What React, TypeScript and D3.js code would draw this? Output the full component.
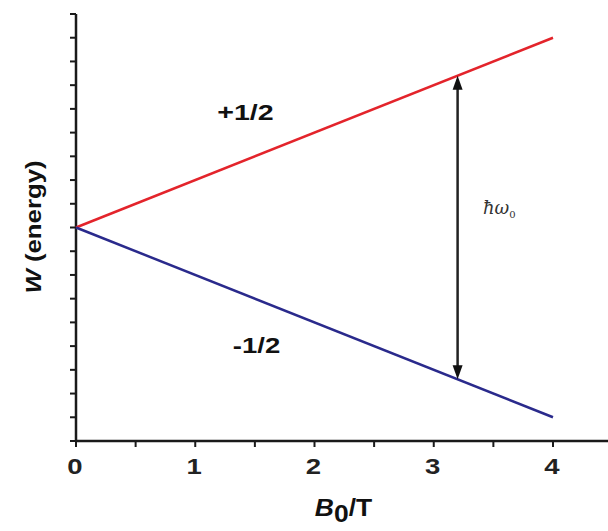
import React from "react";
import * as d3 from "d3";

const xTickValues = [0, 1, 2, 3, 4];
const xMinorTicks = [0.5, 1.5, 2.5, 3.5];
const yTickValues = d3.range(-9, 10, 1);
const bValues = [0, 4];
const upperLevel = [0, 8]; // m = +1/2
const lowerLevel = [0, -8]; // m = -1/2
const arrowB = 3.2;

const W = 608;
const H = 531;

export default function App() {
  const x = d3.scaleLinear().domain([0, 4]).range([76, 553]);
  const y = d3.scaleLinear().domain([-9, 9]).range([441, 14]);
  const line = d3
    .line<[number, number]>()
    .x((d) => x(d[0]))
    .y((d) => y(d[1]));
  const upper = bValues.map((b, i) => [b, upperLevel[i]] as [number, number]);
  const lower = bValues.map((b, i) => [b, lowerLevel[i]] as [number, number]);
  const slope = upperLevel[1] / bValues[1];
  const ax = x(arrowB);
  const ay1 = y(slope * arrowB);
  const ay2 = y(-slope * arrowB);
  const font = "'Liberation Sans', Arial, sans-serif";
  const ah = 12;
  const aw = 5;

  return (
    <svg
      width={W}
      height={H}
      style={{ position: "absolute", left: 0, top: 0, background: "#fff" }}
      fontFamily={font}
    >
      {/* axes */}
      <line x1={x(0)} x2={608} y1={y(-9)} y2={y(-9)} stroke="#1a1a1a" strokeWidth={2.5} />
      <line x1={x(0)} x2={x(0)} y1={y(9)} y2={y(-9) + 1} stroke="#1a1a1a" strokeWidth={2.5} />
      {yTickValues.map((v) => (
        <line key={"yt" + v} x1={x(0) - 6} x2={x(0)} y1={y(v)} y2={y(v)} stroke="#1a1a1a" strokeWidth={2} />
      ))}
      {xTickValues.concat(xMinorTicks).map((v) => (
        <line key={"xt" + v} x1={x(v)} x2={x(v)} y1={y(-9)} y2={y(-9) + 6} stroke="#1a1a1a" strokeWidth={2} />
      ))}
      {xTickValues.map((v) => (
        <g key={"xl" + v} transform={`translate(${x(v) - 1},474) scale(1.25,1)`}>
          <text x={0} y={0} textAnchor="middle" fontSize={22} fontWeight="bold" fill="#222">
            {v}
          </text>
        </g>
      ))}

      {/* levels */}
      <path d={line(upper) || ""} stroke="#e3242b" strokeWidth={2.5} fill="none" />
      <path d={line(lower) || ""} stroke="#2a2a8c" strokeWidth={2.5} fill="none" />

      {/* arrow */}
      <line x1={ax} x2={ax} y1={ay1 + ah} y2={ay2 - ah} stroke="#222" strokeWidth={2.5} />
      <path d={`M${ax},${ay1} L${ax - aw},${ay1 + ah + 2} L${ax + aw},${ay1 + ah + 2} Z`} fill="#111" />
      <path d={`M${ax},${ay2} L${ax - aw},${ay2 - ah - 2} L${ax + aw},${ay2 - ah - 2} Z`} fill="#111" />

      {/* labels */}
      <g transform="translate(245.5,120) scale(1.3,1)">
        <text x={0} y={0} textAnchor="middle" fontSize={22} fontWeight="bold" fill="#111">+1/2</text>
      </g>
      <g transform="translate(256.5,353) scale(1.25,1)">
        <text x={0} y={0} textAnchor="middle" fontSize={22} fontWeight="bold" fill="#111">-1/2</text>
      </g>
      <text x={483} y={214} fontSize={18} fill="#333" fontFamily="'DejaVu Serif', serif" fontStyle="italic">
        ħω<tspan fontSize={10} dy={4} fontStyle="normal">0</tspan>
      </text>

      <g transform="translate(41,227) rotate(-90) scale(1.12,1)">
        <text x={0} y={0} textAnchor="middle" fontSize={23} fontWeight="bold" fill="#111">
          <tspan fontStyle="italic">W</tspan> (energy)
        </text>
      </g>
      <g transform="translate(343.5,516) scale(1.15,1)">
        <text x={0} y={0} textAnchor="middle" fontSize={23} fontWeight="bold" fill="#111">
          <tspan fontStyle="italic">B</tspan>
          <tspan dy={6}>0</tspan>
          <tspan dy={-6}>/T</tspan>
        </text>
      </g>
    </svg>
  );
}
